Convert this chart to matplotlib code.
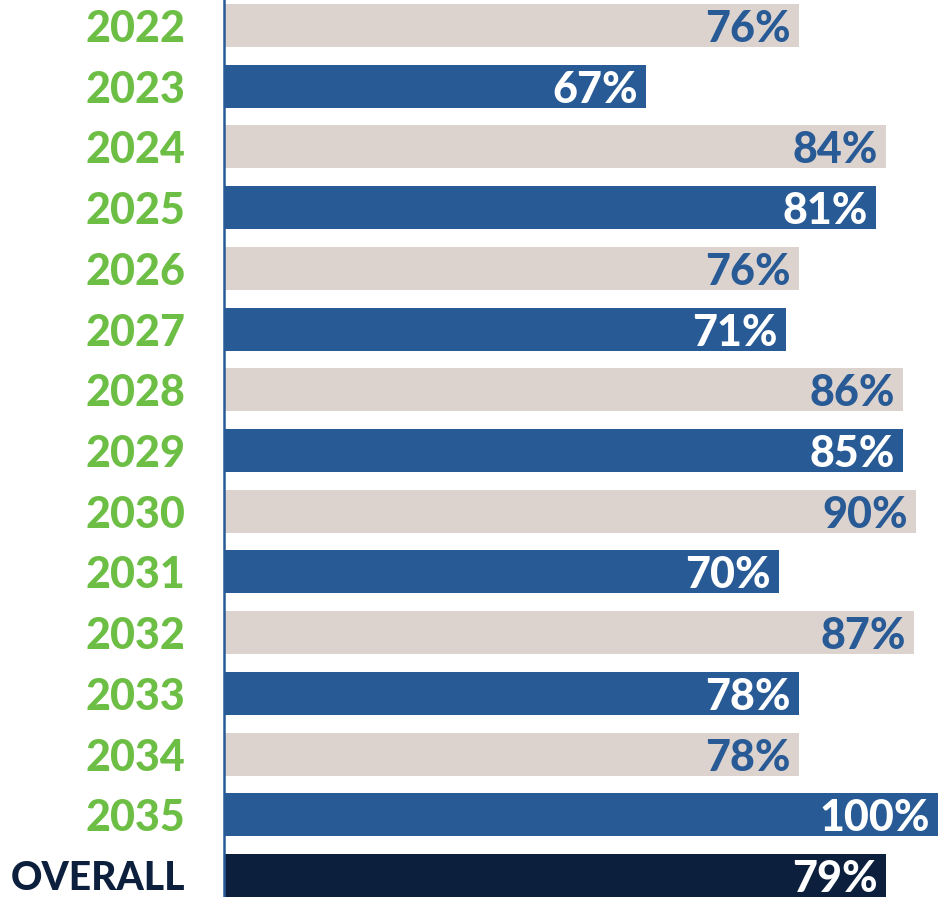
import matplotlib
matplotlib.use("Agg")
import matplotlib.pyplot as plt
from matplotlib.transforms import offset_copy

categories = ["2022", "2023", "2024", "2025", "2026", "2027", "2028", "2029",
              "2030", "2031", "2032", "2033", "2034", "2035", "OVERALL"]
percent_labels = [76, 67, 84, 81, 76, 71, 86, 85, 90, 70, 87, 78, 78, 100, 79]
# bar lengths as drawn in the picture (not proportional to the labels)
bar_lengths = [80.5, 59.1, 92.7, 91.3, 80.5, 78.7, 95.1, 95.1, 96.9, 77.7,
               96.6, 80.5, 80.5, 100.0, 92.7]

BEIGE = "#DDD3CE"
BLUE = "#285A96"
NAVY = "#0C1F3D"
GREEN = "#6DBE45"

plt.rcParams['font.family'] = ['Lato', 'DejaVu Sans']

fig = plt.figure(figsize=(9.38, 8.97), dpi=100)
ax = fig.add_axes([224 / 938, 0, 1 - 224 / 938, 1])

n = len(categories)
ys = list(range(n))
bar_colors = []
text_colors = []
label_colors = []
for i, c in enumerate(categories):
    if c == "OVERALL":
        bar_colors.append(NAVY); text_colors.append("white"); label_colors.append(NAVY)
    elif i % 2 == 0:
        bar_colors.append(BEIGE); text_colors.append(BLUE); label_colors.append(GREEN)
    else:
        bar_colors.append(BLUE); text_colors.append("white"); label_colors.append(GREEN)

ax.barh(ys, bar_lengths, height=0.708, color=bar_colors, left=0)
ax.set_xlim(0, 100)
ax.set_ylim(14 + 21.5 / 60.71, -25.5 / 60.71)

tr = offset_copy(ax.transData, fig=fig, x=-8 * 0.72, y=0, units='points')
for y, L, p, tc in zip(ys, bar_lengths, percent_labels, text_colors):
    ax.text(L, y, f"{p}%", ha='right', va='center_baseline', color=tc,
            fontsize=31, fontweight='black', transform=tr)

ax.set_yticks(ys)
ax.set_yticklabels(categories, fontsize=31, fontweight='black')
for lbl, col, c in zip(ax.get_yticklabels(), label_colors, categories):
    lbl.set_color(col)
    if c == "OVERALL":
        lbl.set_fontsize(28)
ax.tick_params(axis='y', length=0, pad=28)
ax.set_xticks([])
for s in ["top", "right", "bottom"]:
    ax.spines[s].set_visible(False)
ax.spines["left"].set_color(BLUE)
ax.spines["left"].set_linewidth(1.8)

fig.savefig("out.png", dpi=100, facecolor="white")
